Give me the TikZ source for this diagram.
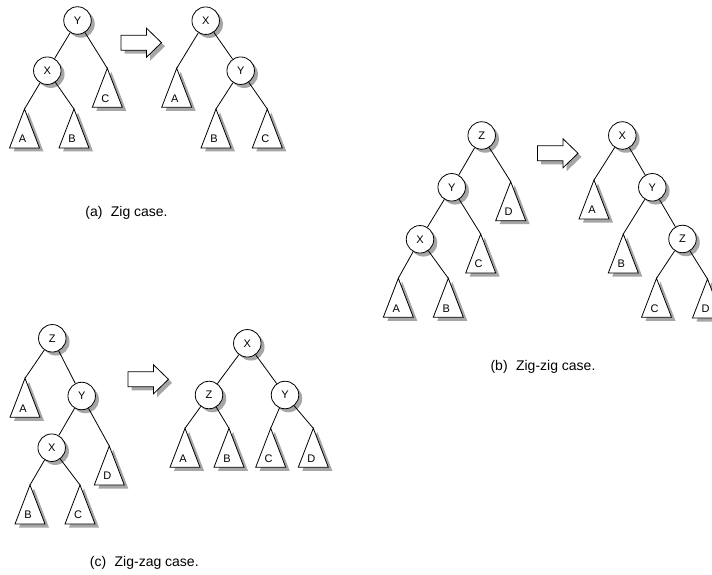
\documentclass[tikz,border=0pt]{standalone}
\usepackage{fontspec}
\setmainfont{Liberation Sans}
\usetikzlibrary{shadows,calc}
\definecolor{shc}{HTML}{A6A6A6}
\tikzset{
  cnode/.style={circle,draw=black,line width=0.8pt,fill=white,minimum size=27.5pt,inner sep=0pt,
    font=\fontsize{11}{11}\selectfont,
    drop shadow={shadow xshift=3.5pt,shadow yshift=-3.5pt,fill=shc,opacity=1}},
  tlab/.style={inner sep=0pt,font=\fontsize{11}{11}\selectfont},
  conn/.style={draw=black,line width=0.8pt},
  trib/.style={draw=black,line width=0.8pt,fill=white,line join=miter},
  captxt/.style={inner sep=0pt,font=\fontsize{14}{14}\selectfont},
}
\newcommand\mytri[3]{%
  \coordinate (#1) at (#2);
  \fill[shc] ($(#1)+(4,3.5)$) -- ++(-15,39) -- ++(30,0) -- cycle;
  \draw[trib] (#1) -- ++(-15,39) -- ++(30,0) -- cycle;
  \node[tlab] (#1l) at ($(#1)+(-2,30)$) {#3};
}
\newcommand\myarrow[2]{%
  \coordinate (#1) at (#2);
  \fill[shc] ($(#1)+(3.5,3.5)$) -- ++(0,-7.5) -- ++(25.5,0) -- ++(0,-7) -- ++(15,14.5) -- ++(-15,14.5) -- ++(0,-7) -- ++(-25.5,0) -- cycle;
  \draw[trib] (#1) -- ++(0,-7.5) -- ++(25.5,0) -- ++(0,-7) -- ++(15,14.5) -- ++(-15,14.5) -- ++(0,-7) -- ++(-25.5,0) -- cycle;
}
\begin{document}
\begin{tikzpicture}[x=1pt,y=-1pt]
\useasboundingbox[fill=white] (0,0) rectangle (712,575);

% ---------- (a) ----------
\node[cnode] (aY) at (77.5,20.5) {Y};
\node[cnode] (aX) at (47.3,70.7) {X};
\mytri{aC}{107.3,68.3}{C}
\mytri{aA}{24.5,109}{A}
\mytri{aB}{74,109}{B}
\draw[conn] (aY) -- (aX);
\draw[conn] (aY) -- (aC);
\draw[conn] (aX) -- (aA);
\draw[conn] (aX) -- (aB);
\myarrow{aar}{121,42.7}
\node[cnode] (aX2) at (205.7,20.7) {X};
\node[cnode] (aY2) at (240.7,70.7) {Y};
\mytri{aA2}{176.7,68.3}{A}
\mytri{aB2}{216,109}{B}
\mytri{aC2}{267.3,109}{C}
\draw[conn] (aX2) -- (aA2);
\draw[conn] (aX2) -- (aY2);
\draw[conn] (aY2) -- (aB2);
\draw[conn] (aY2) -- (aC2);
\node[captxt] (acap) at (126.5,212.5) {(a)\hspace{0.6em}Zig case.};

% ---------- (b) ----------
\node[cnode] (bZ) at (481.7,135.5) {Z};
\node[cnode] (bY) at (451.7,187.3) {Y};
\node[cnode] (bX) at (420,239.3) {X};
\mytri{bD}{510.7,181.7}{D}
\mytri{bC}{480.7,234}{C}
\mytri{bA}{398.3,278.3}{A}
\mytri{bB}{448.3,278.3}{B}
\draw[conn] (bZ) -- (bY);
\draw[conn] (bZ) -- (bD);
\draw[conn] (bY) -- (bX);
\draw[conn] (bY) -- (bC);
\draw[conn] (bX) -- (bA);
\draw[conn] (bX) -- (bB);
\myarrow{bar}{537.5,153.3}
\node[cnode] (bX2) at (622.3,135.5) {X};
\node[cnode] (bY2) at (652.3,187.3) {Y};
\node[cnode] (bZ2) at (682.5,239) {Z};
\mytri{bA2}{594,180}{A}
\mytri{bB2}{623.3,234}{B}
\mytri{bC2}{656.5,278.3}{C}
\mytri{bD2}{707.5,279}{D}
\draw[conn] (bX2) -- (bA2);
\draw[conn] (bX2) -- (bY2);
\draw[conn] (bY2) -- (bB2);
\draw[conn] (bY2) -- (bZ2);
\draw[conn] (bZ2) -- (bC2);
\draw[conn] (bZ2) -- (bD2);
\node[captxt] (bcap) at (543,367.3) {(b)\hspace{0.6em}Zig-zig case.};

% ---------- (c) ----------
\node[cnode] (cZ) at (52.3,338.3) {Z};
\node[cnode] (cY) at (81.7,396) {Y};
\node[cnode] (cX) at (51.7,447.7) {X};
\mytri{cA}{25,378.3}{A}
\mytri{cD}{109.3,446}{D}
\mytri{cB}{30,485}{B}
\mytri{cC}{80,485}{C}
\draw[conn] (cZ) -- (cA);
\draw[conn] (cZ) -- (cY);
\draw[conn] (cY) -- (cX);
\draw[conn] (cY) -- (cD);
\draw[conn] (cX) -- (cB);
\draw[conn] (cX) -- (cC);
\myarrow{car}{128,379.3}
\node[cnode] (cX2) at (247.3,343.3) {X};
\node[cnode] (cZ2) at (209,395) {Z};
\node[cnode] (cY2) at (285,395) {Y};
\mytri{cA2}{185,428.3}{A}
\mytri{cB2}{229,428.3}{B}
\mytri{cC2}{270.7,428.3}{C}
\mytri{cD2}{313.3,428.3}{D}
\draw[conn] (cX2) -- (cZ2);
\draw[conn] (cX2) -- (cY2);
\draw[conn] (cZ2) -- (cA2);
\draw[conn] (cZ2) -- (cB2);
\draw[conn] (cY2) -- (cC2);
\draw[conn] (cY2) -- (cD2);
\node[captxt] (ccap) at (144.3,563.3) {(c)\hspace{0.6em}Zig-zag case.};
\end{tikzpicture}
\end{document}
